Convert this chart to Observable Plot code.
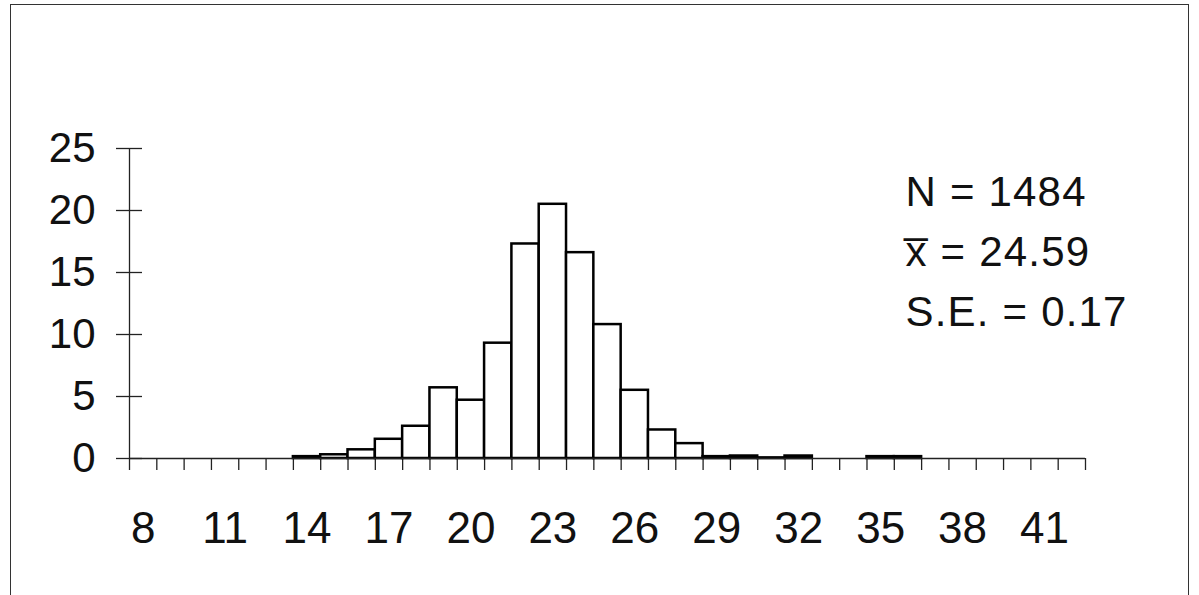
<!DOCTYPE html>
<html><head><meta charset="utf-8">
<script src="https://cdn.jsdelivr.net/npm/d3@7"></script>
<script src="https://cdn.jsdelivr.net/npm/@observablehq/plot@0.6"></script>
<style>
body{margin:0;background:#fff;}
#wrap{position:relative;width:1199px;height:595px;overflow:hidden;}
#border{position:absolute;left:10px;top:4px;width:1177px;height:700px;border:1.5px solid #333;}
#chart{position:absolute;left:0;top:0;}
.stats text{letter-spacing:1.2px;}
</style></head><body>
<div id="wrap"><div id="border"></div><div id="chart"></div></div>
<script>
// Category (bin centre) values and percentages
const binValues = [14, 15, 16, 17, 18, 19, 20, 21, 22, 23, 24, 25, 26, 27, 28, 29, 30, 31, 32, 35, 36];
const percents  = [0.15, 0.3, 0.7, 1.55, 2.6, 5.7, 4.7, 9.3, 17.3, 20.5, 16.6, 10.8, 5.5, 2.3, 1.2, 0.15, 0.2, 0.05, 0.2, 0.15, 0.15];
const binWidth = 1;
const xDomain = [7.5, 42.5];
const yDomain = [0, 25];
const yTicks = [0, 5, 10, 15, 20, 25];
const xTickLabels = [8, 11, 14, 17, 20, 23, 26, 29, 32, 35, 38, 41];
const statLines = ["N = 1484", "x\u0305 = 24.59", "S.E. = 0.17"];

const rows = binValues.map((v, i) => ({v, p: percents[i]}));
const binEdges = d3.range(xDomain[0], xDomain[1] + binWidth / 2, binWidth);

const chart = Plot.plot({
  width: 1199, height: 595,
  marginLeft: 129, marginRight: 114, marginTop: 148, marginBottom: 137,
  x: {domain: xDomain},
  y: {domain: yDomain},
  style: {fontFamily: "'Liberation Sans', Arial, sans-serif", background: "transparent", color: "#111"},
  marks: [
    Plot.axisX({ticks: binEdges, tickSize: 12, tickFormat: () => "", stroke: "#222", strokeWidth: 1.3, label: null}),
    Plot.axisX({ticks: xTickLabels, tickSize: 0, tickPadding: 53, fontSize: 44, tickFormat: d => String(d), label: null}),
    Plot.axisY({ticks: yTicks, tickSize: 26, dx: 13, tickFormat: () => "", stroke: "#222", strokeWidth: 1.3, label: null}),
    Plot.axisY({ticks: yTicks, tickSize: 0, tickPadding: 34, fontSize: 42, tickFormat: d => String(d), label: null}),
    Plot.ruleX([xDomain[0]], {y1: yDomain[0], y2: yDomain[1], stroke: "#222", strokeWidth: 1.3}),
    Plot.rectY(rows, {x1: d => d.v - binWidth / 2, x2: d => d.v + binWidth / 2, y1: yDomain[0], y2: d => d.p, fill: "white", stroke: "#000", strokeWidth: 2.5}),
    Plot.ruleY([yDomain[0]], {stroke: "#222", strokeWidth: 1.5}),
    Plot.text([statLines.join("\n")], {className: "stats", frameAnchor: "top-right", textAnchor: "start", lineAnchor: "top", dx: -180, dy: 15, fontSize: 42, lineHeight: 1.43, fill: "#111"})
  ]
});
document.getElementById("chart").appendChild(chart);
</script>
</body></html>
